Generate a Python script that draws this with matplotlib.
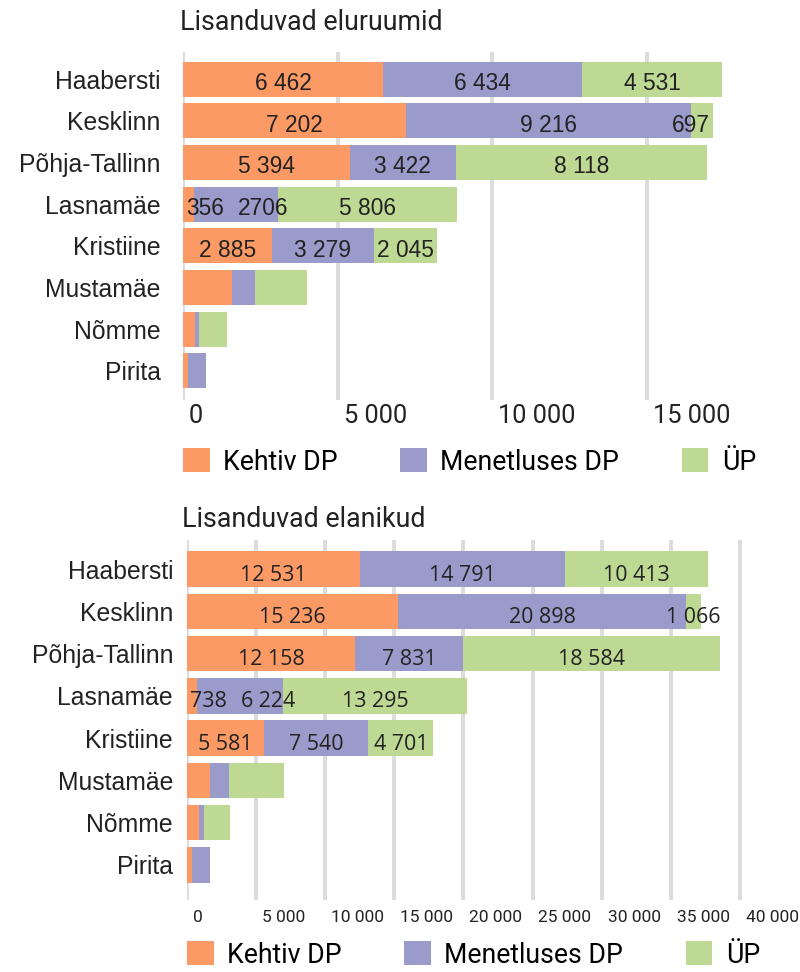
import matplotlib
matplotlib.use('Agg')
import matplotlib.pyplot as plt
from matplotlib.patches import Patch
import matplotlib.transforms as mtransforms

districts = ['Haabersti', 'Kesklinn', 'Põhja-Tallinn', 'Lasnamäe', 'Kristiine',
             'Mustamäe', 'Nõmme', 'Pirita']
series = ['Kehtiv DP', 'Menetluses DP', 'ÜP']

# Lisanduvad eluruumid
dw_kehtiv = [6462, 7202, 5394, 356, 2885, 1580, 390, 150]
dw_menet = [6434, 9216, 3422, 2706, 3279, 740, 130, 590]
dw_up = [4531, 697, 8118, 5806, 2045, 1680, 900, 0]

# Lisanduvad elanikud
res_kehtiv = [12531, 15236, 12158, 738, 5581, 1660, 870, 340]
res_menet = [14791, 20898, 7831, 6224, 7540, 1400, 360, 1320]
res_up = [10413, 1066, 18584, 13295, 4701, 3940, 1880, 0]

labeled_rows = 5
dw_ticks = [0, 5000, 10000, 15000]
res_ticks = [0, 5000, 10000, 15000, 20000, 25000, 30000, 35000, 40000]
label_override = {(0, 3, 1): '2706'}

colors = ['#fc9a66', '#9b9bcb', '#bed994']
W, H = 800, 972
fig = plt.figure(figsize=(W / 100, H / 100), dpi=100)


def fmt(v):
    return format(int(v), ',').replace(',', ' ')


def fx(px):
    return px / W


def fy(py):
    return 1 - py / H


panels = [
    dict(data=[dw_kehtiv, dw_menet, dw_up], ticks=dw_ticks, title='Lisanduvad eluruumid',
         left=183, top=52, bottom=400, scale=5000 / 154.7, ylim=(7.7, -0.65),
         ticksize=18.3, tickpad=3, title_xy=(180, 22), legend_y=462, ylab_pad=16,
         right_clamp=True, vfont='Liberation Sans', vsize=16.4, vbase=11),
    dict(data=[res_kehtiv, res_menet, res_up], ticks=res_ticks, title='Lisanduvad elanikud',
         left=187, top=540, bottom=900, scale=5000 / 69.1, ylim=(7.83, -0.69),
         ticksize=12.5, tickpad=7, title_xy=(182, 519), legend_y=955, ylab_pad=10,
         right_clamp=False, vfont='Open Sans', vsize=15.4, vbase=11.5),
]

all_texts = []
for pi, p in enumerate(panels):
    ax = fig.add_axes([fx(p['left']), fy(p['bottom']), fx(W - p['left']),
                       (p['bottom'] - p['top']) / H])
    ax.set_xlim(0, (W - p['left']) * p['scale'])
    ax.set_ylim(*p['ylim'])
    y = list(range(len(districts)))
    lefts = [0] * len(districts)
    for si, vals in enumerate(p['data']):
        ax.barh(y, vals, left=lefts, height=0.84, color=colors[si], zorder=2)
        lefts = [a + b for a, b in zip(lefts, vals)]
    totals = lefts
    ax.set_axisbelow(True)
    ax.xaxis.grid(True, color='#dcdcdc', lw=2.8, zorder=0)
    for s in ax.spines.values():
        s.set_visible(False)
    ax.set_xticks(p['ticks'], [fmt(t) for t in p['ticks']])
    ax.tick_params(axis='x', length=0, pad=p['tickpad'], labelsize=p['ticksize'],
                   colors='#222222')
    off = mtransforms.ScaledTranslation(6 / 100, 0, fig.dpi_scale_trans)
    for lab in ax.get_xticklabels():
        lab.set_ha('left')
        lab.set_fontfamily('Roboto')
        lab.set_transform(lab.get_transform() + off)
    ax.set_yticks(y, districts)
    ax.tick_params(axis='y', length=0, pad=p['ylab_pad'], labelsize=17.8, colors='#222222')
    for lab in ax.get_yticklabels():
        lab.set_fontfamily('Liberation Sans')

    # bar value labels
    down = mtransforms.ScaledTranslation(0, -p['vbase'] / 100, fig.dpi_scale_trans)
    for r in range(labeled_rows):
        row_texts = []
        cum = 0
        for si, vals in enumerate(p['data']):
            v = vals[r]
            txt = label_override.get((pi, r, si), fmt(v))
            t = ax.text(cum + v / 2, r, txt, ha='center', va='baseline', fontsize=p['vsize'],
                        family=p['vfont'], color='#222222', zorder=3,
                        transform=ax.transData + down)
            row_texts.append(t)
            cum += v
        all_texts.append((ax, r, row_texts, totals[r], p['right_clamp']))

    fig.text(fx(p['title_xy'][0]), fy(p['title_xy'][1]), p['title'], fontsize=19.3,
             family='Roboto', color='#222222', ha='left', va='center')

    handles = [Patch(facecolor=c, edgecolor='none') for c in colors]
    fig.legend(handles, series, loc='center left',
               bbox_to_anchor=(fx(p['left']), fy(p['legend_y'])), ncol=3, frameon=False,
               prop={'family': 'Roboto', 'size': 19.2},
               handlelength=1.0, handleheight=1.0, handletextpad=0.5,
               columnspacing=2.35, borderpad=0, borderaxespad=0)

# resolve overlapping value labels
fig.canvas.draw()
renderer = fig.canvas.get_renderer()
gap = 14
for ax, r, texts, total, clamp in all_texts:
    x0_px = ax.transData.transform((0, r))[0]
    xend_px = ax.transData.transform((total, r))[0]
    ypx = ax.transData.transform((0, r))[1]
    boxes = [t.get_window_extent(renderer) for t in texts]
    centers = [(b.x0 + b.x1) / 2 for b in boxes]
    widths = [b.x1 - b.x0 for b in boxes]
    if clamp:
        right_max = xend_px - 3
        for i in range(len(texts) - 1, -1, -1):
            if centers[i] + widths[i] / 2 > right_max:
                centers[i] = right_max - widths[i] / 2
            right_max = centers[i] - widths[i] / 2 - gap
    left_min = x0_px + 3
    for i in range(len(texts)):
        if centers[i] - widths[i] / 2 < left_min:
            centers[i] = left_min + widths[i] / 2
        left_min = centers[i] + widths[i] / 2 + gap
    for t, cx in zip(texts, centers):
        t.set_x(ax.transData.inverted().transform((cx, ypx))[0])

fig.savefig('out.png', dpi=100)
